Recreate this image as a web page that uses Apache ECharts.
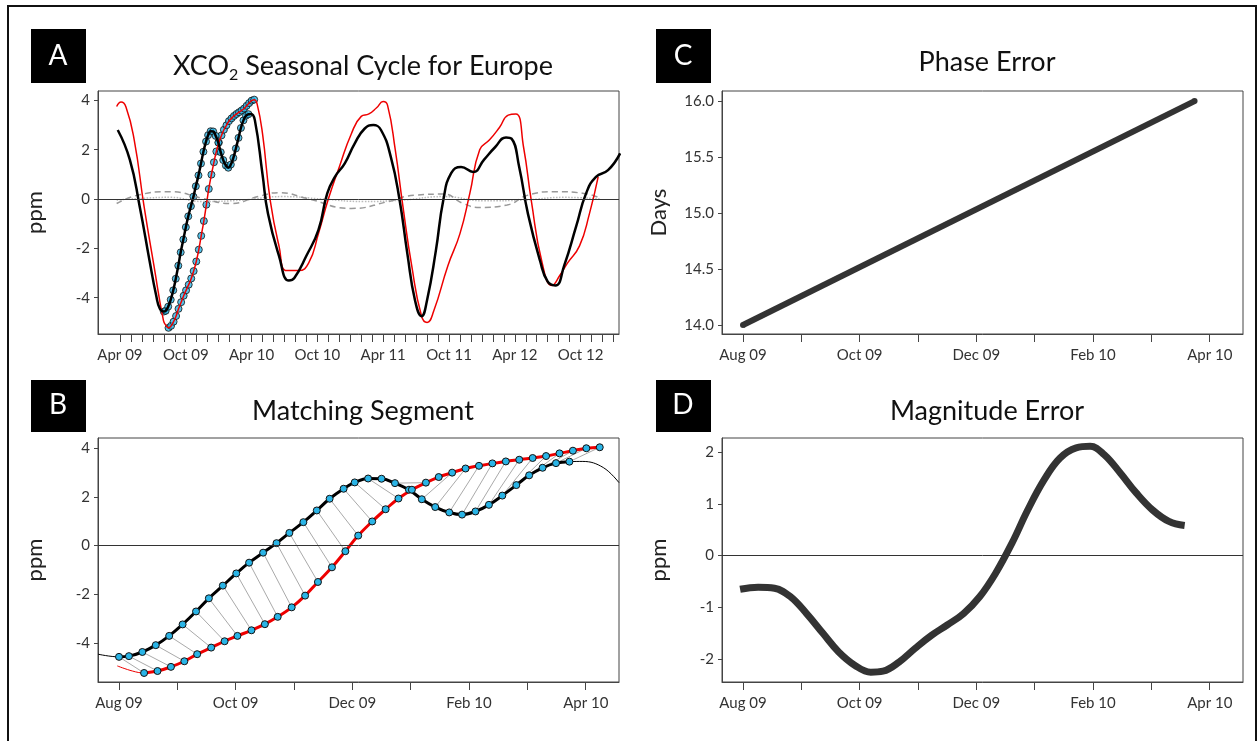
<!DOCTYPE html>
<html>
<head>
<meta charset="utf-8">
<script src="https://cdn.jsdelivr.net/npm/echarts@6/dist/echarts.min.js"></script>
<style>
html,body{margin:0;padding:0;background:#fff}
#main{width:1260px;height:741px}
</style>
</head>
<body>
<div id="main"></div>
<script>
// months: A axis counted from Apr 09, B/C/D axes counted from Aug 09
var monthNames = ['Jan','Feb','Mar','Apr','May','Jun','Jul','Aug','Sep','Oct','Nov','Dec'];

// panel A, black (model) outside the matched segment
var blackBefore = [[-0.2,2.8],[0.9,1.6],[1.8,-0.3],[2.7,-2.5],[3.3,-3.9]];
var blackAfter = [[13.0,1.0],[13.5,-0.6],[14.5,-2.3],[15.4,-3.3],[15.9,-3.2],[17,-2.3],[18.1,-1.25],[18.9,0.23],[19.6,0.9],[20.5,1.45],[21.4,2.25],[22.3,2.85],[23.1,3.0],[23.8,2.8],[24.7,1.7],[25.5,-0.05],[26.2,-2.2],[26.9,-4.1],[27.5,-4.75],[28,-4.1],[28.8,-2.1],[29.5,0],[30.2,1.05],[31.1,1.3],[32.2,1.1],[33.2,1.6],[34.2,2.1],[35.2,2.5],[35.7,2.45],[36.4,1.3],[37.2,-0.6],[38.3,-2.5],[39,-3.35],[39.7,-3.5],[40.5,-2.7],[41.6,-1.1],[42.5,0.23],[43.4,0.9],[44.5,1.17],[45.6,1.85]];
// panel A, red (observed) outside the matched segment
var redBefore = [[-0.3,3.75],[0.1,3.93],[0.55,3.73],[1.3,2.4],[2.2,-0.3],[3.1,-2.7]];
var redAfter = [[12.5,3.87],[13,2.65],[13.7,-0.05],[14.5,-1.9],[15.2,-2.9],[16.3,-2.9],[17.2,-2.6],[18.1,-1.4],[19.0,0],[20,1.3],[21.1,2.65],[22,3.35],[22.7,3.45],[23.4,3.7],[24,3.95],[24.4,3.8],[25.1,2.0],[25.8,-0.3],[26.6,-2.7],[27.5,-4.75],[28,-5.0],[28.6,-4.55],[29.9,-2.7],[31,-1.4],[31.9,0.23],[32.8,2.0],[33.7,2.4],[34.6,2.9],[35.4,3.4],[36.1,3.45],[36.8,2.1],[37.5,-0.05],[38.5,-2.6],[39.4,-3.5],[40.1,-3.1],[40.8,-2.6],[41.9,-1.9],[42.8,-0.6],[43.6,0.9]];
var greyDashed = [[-0.3,-0.18],[1.65,0.16],[4.6,0.3],[7.5,0.03],[10.1,-0.18],[12.6,0.1],[14.5,0.26],[17,0.03],[21.1,-0.38],[24.4,-0.11],[26.9,0.16],[29.5,0.2],[31.3,-0.18],[32.8,-0.34],[35.3,-0.24],[37.2,0.16],[39.7,0.3],[42.3,0.23],[43.8,0.03]];
var greyDotted = [[-0.3,-0.04],[2.0,0.03],[4.6,0.07],[7.5,-0.1],[11.2,-0.04],[14.8,0.1],[18.5,0],[22.2,-0.1],[25.8,-0.04],[29.5,0.1],[33.2,-0.07],[36.8,-0.04],[40.5,0.07],[43.8,0]];

// panel B, the matched segment (weekly points)
var blackDots = [[0,-4.56],[0.17,-4.53],[0.40,-4.36],[0.63,-4.08],[0.86,-3.70],[1.09,-3.23],[1.32,-2.70],[1.54,-2.16],[1.78,-1.64],[2.01,-1.14],[2.23,-0.70],[2.47,-0.29],[2.70,0.10],[2.92,0.52],[3.16,0.96],[3.39,1.44],[3.61,1.92],[3.85,2.33],[4.04,2.59],[4.27,2.75],[4.50,2.74],[4.73,2.56],[4.97,2.29],[5.19,1.90],[5.42,1.58],[5.66,1.36],[5.88,1.27],[6.11,1.40],[6.34,1.67],[6.57,2.05],[6.81,2.48],[7.03,2.88],[7.26,3.19],[7.49,3.38],[7.72,3.44]];
var redDots = [[0.43,-5.22],[0.66,-5.14],[0.89,-4.97],[1.12,-4.74],[1.34,-4.45],[1.58,-4.18],[1.81,-3.92],[2.03,-3.70],[2.27,-3.47],[2.50,-3.22],[2.72,-2.92],[2.96,-2.53],[3.19,-2.05],[3.41,-1.49],[3.65,-0.89],[3.88,-0.23],[4.10,0.41],[4.34,0.99],[4.57,1.49],[4.79,1.93],[5.02,2.29],[5.26,2.58],[5.48,2.81],[5.71,2.99],[5.94,3.16],[6.17,3.27],[6.40,3.37],[6.63,3.45],[6.86,3.52],[7.09,3.59],[7.32,3.67],[7.55,3.78],[7.78,3.89],[8.01,3.99],[8.24,4.03]];
var blackEdgeL = [[-0.36,-4.45]];
var blackEdgeR = [[7.95,3.45],[8.3,3.2],[8.57,2.58]];
var redEdgeL = [[-0.03,-4.93],[0.23,-5.14]];

// panel C, phase error (days)
var phase = [[0,14.0],[7.74,16.0]];
// panel D, magnitude error (ppm)
var magnitude = [[-0.05,-0.65],[0.26,-0.61],[0.54,-0.63],[0.81,-0.79],[1.09,-1.12],[1.37,-1.50],[1.64,-1.86],[1.92,-2.12],[2.19,-2.25],[2.40,-2.23],[2.68,-2.05],[2.95,-1.79],[3.23,-1.54],[3.50,-1.34],[3.78,-1.12],[4.06,-0.79],[4.33,-0.34],[4.61,0.24],[4.88,0.88],[5.16,1.46],[5.43,1.88],[5.71,2.08],[5.95,2.11],[6.19,1.95],[6.47,1.59],[6.74,1.21],[7.02,0.88],[7.30,0.66],[7.57,0.58]];

var yTicksA = [-4,-2,0,2,4];
var yTicksC = [14.0,14.5,15.0,15.5,16.0];
var yTicksD = [-2,-1,0,1,2];

function shift(arr){ return arr.map(function(p){ return [p[0]+4,p[1]]; }); }
function range(a,b){ var r=[]; for(var i=a;i<=b;i++) r.push(i); return r; }
function monthLabel(start){
	return function(v){
		var k = Math.round(v) + start;
		return monthNames[k%12] + ' ' + ('0'+(9+Math.floor(k/12))).slice(-2);
	};
}

var font = 'Lato';
var grids = [
	{left:98, right:641, top:91, bottom:407},
	{left:98, right:641, top:438, bottom:59},
	{left:722, right:17, top:91, bottom:407},
	{left:722, right:17, top:438, bottom:59}
];
grids.forEach(function(g){ g.show=true; g.borderColor='#444'; g.borderWidth=1; });

function xAx(idx,min,max,start,labels){
	return {
		type:'value', gridIndex:idx, min:min, max:max,
		axisLine:{show:true,onZero:false,lineStyle:{color:'#444'}},
		axisTick:{show:true,length:8,customValues:range(0,Math.floor(max)),lineStyle:{color:'#444'}},
		axisLabel:{customValues:labels,formatter:monthLabel(start),color:'#333',fontFamily:font,fontSize:15,margin:14},
		splitLine:{show:false}
	};
}
function yAx(idx,min,max,ticks,name,dec){
	return {
		type:'value', gridIndex:idx, min:min, max:max,
		name:name, nameLocation:'middle', nameGap:52, nameRotate:90,
		nameTextStyle:{fontFamily:font,fontSize:22,color:'#222'},
		axisLine:{show:true,onZero:false,lineStyle:{color:'#444'}},
		axisTick:{show:true,length:4,customValues:ticks,lineStyle:{color:'#444'}},
		axisLabel:{customValues:ticks,color:'#333',fontFamily:font,fontSize:15,
			formatter:function(v){ return dec ? v.toFixed(1) : String(v); }},
		splitLine:{show:false}
	};
}

var dotStyle = {color:'#2ab4e6',borderColor:'#111',borderWidth:1};
var zeroLine = {silent:true,symbol:'none',label:{show:false},lineStyle:{color:'#333',type:'solid',width:1},data:[{yAxis:0}]};

var hatch = blackDots.map(function(p,i){ return {coords:[p,redDots[i]]}; });

var blackA = blackBefore.concat(shift(blackEdgeL), shift(blackDots), shift(blackEdgeR.slice(0,2)), blackAfter);
var redA = redBefore.concat(shift(redEdgeL), shift(redDots), redAfter);

var option = {
	animation:false,
	backgroundColor:'#fff',
	title:[
		{text:'XCO{s|2} Seasonal Cycle for Europe',left:358,top:44,textAlign:'center',
			textStyle:{fontFamily:font,fontSize:27,fontWeight:'normal',color:'#111',
				rich:{s:{fontFamily:font,fontSize:16,color:'#111',padding:[18,0,0,0]}}}},
		{text:'Matching Segment',left:358,top:393,textAlign:'center',textStyle:{fontFamily:font,fontSize:27,fontWeight:'normal',color:'#111'}},
		{text:'Phase Error',left:982,top:44,textAlign:'center',textStyle:{fontFamily:font,fontSize:27,fontWeight:'normal',color:'#111'}},
		{text:'Magnitude Error',left:982,top:393,textAlign:'center',textStyle:{fontFamily:font,fontSize:27,fontWeight:'normal',color:'#111'}}
	],
	graphic:[
		{type:'rect',shape:{x:8,y:6,width:1248,height:760},style:{fill:'none',stroke:'#111',lineWidth:2}},
		{type:'rect',shape:{x:31,y:29,width:55,height:54},style:{fill:'#000'}},
		{type:'text',x:58,y:56,style:{text:'A',fill:'#fff',font:'28px Lato',textAlign:'center',textVerticalAlign:'middle'}},
		{type:'rect',shape:{x:31,y:380,width:55,height:52},style:{fill:'#000'}},
		{type:'text',x:58,y:405,style:{text:'B',fill:'#fff',font:'28px Lato',textAlign:'center',textVerticalAlign:'middle'}},
		{type:'rect',shape:{x:656,y:29,width:55,height:54},style:{fill:'#000'}},
		{type:'text',x:683,y:56,style:{text:'C',fill:'#fff',font:'28px Lato',textAlign:'center',textVerticalAlign:'middle'}},
		{type:'rect',shape:{x:656,y:380,width:55,height:52},style:{fill:'#000'}},
		{type:'text',x:683,y:405,style:{text:'D',fill:'#fff',font:'28px Lato',textAlign:'center',textVerticalAlign:'middle'}}
	],
	grid:grids,
	xAxis:[
		xAx(0,-2,45.5,3,[0,6,12,18,24,30,36,42]),
		xAx(1,-0.36,8.57,7,[0,2,4,6,8]),
		xAx(2,-0.36,8.57,7,[0,2,4,6,8]),
		xAx(3,-0.36,8.57,7,[0,2,4,6,8])
	],
	yAxis:[
		yAx(0,-5.47,4.38,yTicksA,'ppm',false),
		yAx(1,-5.59,4.41,yTicksA,'ppm',false),
		yAx(2,13.92,16.09,yTicksC,'Days',true),
		yAx(3,-2.44,2.27,yTicksD,'ppm',false)
	],
	series:[
		// A
		{type:'line',xAxisIndex:0,yAxisIndex:0,data:greyDotted,smooth:0.5,symbol:'none',lineStyle:{color:'#bbb',width:1.5,type:'dotted'},markLine:zeroLine},
		{type:'line',xAxisIndex:0,yAxisIndex:0,data:greyDashed,smooth:0.5,symbol:'none',lineStyle:{color:'#999',width:1.5,type:[6,4]}},
		{type:'line',xAxisIndex:0,yAxisIndex:0,data:redA,smooth:0.5,symbol:'none',lineStyle:{color:'#e00',width:1.5},clip:true},
		{type:'line',xAxisIndex:0,yAxisIndex:0,data:blackA,smooth:0.5,symbol:'none',lineStyle:{color:'#000',width:2.5},clip:true},
		{type:'scatter',xAxisIndex:0,yAxisIndex:0,data:shift(redDots),symbolSize:7,itemStyle:dotStyle},
		{type:'scatter',xAxisIndex:0,yAxisIndex:0,data:shift(blackDots),symbolSize:7,itemStyle:dotStyle},
		// B
		{type:'lines',coordinateSystem:'cartesian2d',xAxisIndex:1,yAxisIndex:1,data:hatch,lineStyle:{color:'#aaa',width:1,opacity:1},z:1},
		{type:'line',xAxisIndex:1,yAxisIndex:1,data:blackEdgeL.concat(blackDots,blackEdgeR),smooth:0.4,symbol:'none',lineStyle:{color:'#000',width:1},markLine:zeroLine},
		{type:'line',xAxisIndex:1,yAxisIndex:1,data:blackDots,smooth:0.4,symbol:'circle',symbolSize:7,itemStyle:dotStyle,lineStyle:{color:'#000',width:3}},
		{type:'line',xAxisIndex:1,yAxisIndex:1,data:redEdgeL.concat(redDots),smooth:0.4,symbol:'none',lineStyle:{color:'#e00',width:1}},
		{type:'line',xAxisIndex:1,yAxisIndex:1,data:redDots,smooth:0.4,symbol:'circle',symbolSize:7,itemStyle:dotStyle,lineStyle:{color:'#e00',width:3}},
		// C
		{type:'line',xAxisIndex:2,yAxisIndex:2,data:phase,symbol:'circle',symbolSize:6,itemStyle:{color:'#333'},lineStyle:{color:'#333',width:6}},
		// D
		{type:'line',xAxisIndex:3,yAxisIndex:3,data:magnitude,smooth:0.4,symbol:'none',lineStyle:{color:'#333',width:7},markLine:zeroLine}
	]
};

var chart = echarts.init(document.getElementById('main'));
chart.setOption(option);
</script>
</body>
</html>
